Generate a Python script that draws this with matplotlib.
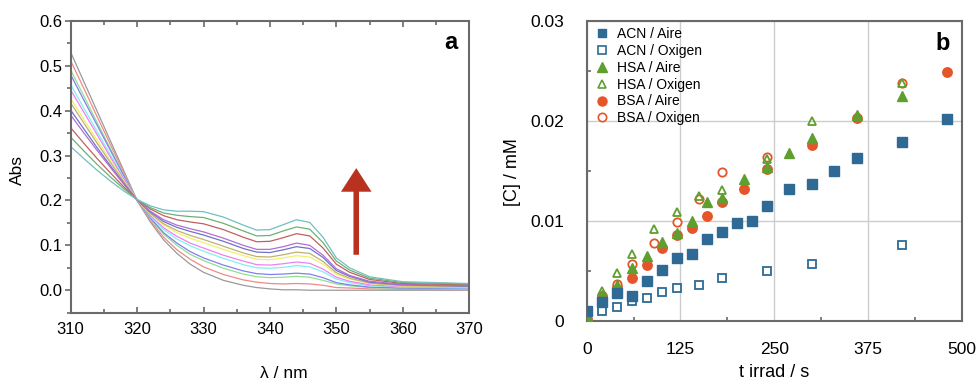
import matplotlib
matplotlib.use("Agg")
import matplotlib.pyplot as plt
from matplotlib.patches import FancyArrowPatch
from matplotlib.ticker import MultipleLocator
from matplotlib.lines import Line2D

plt.rcParams['font.family'] = ['Liberation Sans', 'DejaVu Sans']

# ---------------- panel a: absorption spectra ----------------
wavelength = [310, 312, 314, 316, 318, 320, 322, 324, 326, 328, 330, 333,
              336, 338, 340, 342, 344, 346, 348, 350, 352, 355, 360, 370]

spectra = [
    [0.530, 0.464, 0.398, 0.332, 0.266, 0.200, 0.152, 0.112, 0.082, 0.058, 0.040, 0.022,
     0.011, 0.006, 0.003, 0.001, 0.001, 0.000, 0.000, 0.000, 0.000, 0.000, 0.000, 0.000],
    [0.511, 0.449, 0.386, 0.324, 0.262, 0.200, 0.155, 0.118, 0.090, 0.069, 0.052, 0.035,
     0.023, 0.018, 0.015, 0.014, 0.015, 0.014, 0.011, 0.006, 0.005, 0.003, 0.002, 0.001],
    [0.490, 0.432, 0.373, 0.315, 0.257, 0.200, 0.159, 0.125, 0.100, 0.080, 0.066, 0.049,
     0.036, 0.030, 0.028, 0.029, 0.031, 0.029, 0.022, 0.014, 0.010, 0.006, 0.004, 0.003],
    [0.480, 0.423, 0.367, 0.311, 0.255, 0.200, 0.161, 0.128, 0.105, 0.086, 0.072, 0.056,
     0.043, 0.037, 0.035, 0.036, 0.038, 0.036, 0.028, 0.017, 0.012, 0.007, 0.005, 0.004],
    [0.458, 0.405, 0.353, 0.301, 0.250, 0.201, 0.164, 0.135, 0.114, 0.099, 0.087, 0.071,
     0.057, 0.050, 0.049, 0.051, 0.055, 0.052, 0.041, 0.025, 0.017, 0.010, 0.007, 0.005],
    [0.446, 0.396, 0.346, 0.296, 0.248, 0.201, 0.166, 0.139, 0.120, 0.105, 0.094, 0.078,
     0.065, 0.057, 0.056, 0.059, 0.063, 0.060, 0.047, 0.029, 0.020, 0.012, 0.008, 0.006],
    [0.427, 0.380, 0.334, 0.288, 0.244, 0.201, 0.170, 0.145, 0.128, 0.116, 0.106, 0.091,
     0.077, 0.069, 0.068, 0.072, 0.077, 0.074, 0.058, 0.035, 0.025, 0.015, 0.009, 0.007],
    [0.417, 0.372, 0.327, 0.284, 0.242, 0.201, 0.171, 0.148, 0.133, 0.122, 0.113, 0.098,
     0.083, 0.075, 0.074, 0.079, 0.085, 0.082, 0.064, 0.039, 0.027, 0.016, 0.010, 0.008],
    [0.401, 0.359, 0.317, 0.277, 0.238, 0.201, 0.174, 0.153, 0.140, 0.131, 0.123, 0.109,
     0.093, 0.085, 0.084, 0.090, 0.097, 0.093, 0.073, 0.044, 0.031, 0.018, 0.012, 0.009],
    [0.390, 0.350, 0.311, 0.273, 0.236, 0.201, 0.176, 0.157, 0.145, 0.137, 0.130, 0.116,
     0.100, 0.091, 0.091, 0.097, 0.105, 0.100, 0.078, 0.048, 0.033, 0.020, 0.013, 0.010],
    [0.362, 0.327, 0.293, 0.261, 0.230, 0.202, 0.181, 0.166, 0.157, 0.152, 0.148, 0.135,
     0.118, 0.108, 0.109, 0.117, 0.126, 0.121, 0.094, 0.058, 0.040, 0.024, 0.015, 0.012],
    [0.341, 0.310, 0.280, 0.252, 0.226, 0.202, 0.184, 0.172, 0.167, 0.164, 0.162, 0.149,
     0.132, 0.121, 0.122, 0.132, 0.141, 0.136, 0.106, 0.065, 0.045, 0.027, 0.017, 0.014],
    [0.320, 0.293, 0.267, 0.243, 0.221, 0.202, 0.188, 0.179, 0.176, 0.176, 0.175, 0.163,
     0.145, 0.134, 0.135, 0.146, 0.157, 0.151, 0.118, 0.072, 0.050, 0.030, 0.019, 0.015],
]

spectrum_colors = ['#9a9a9a', '#ee8a8a', '#90e090', '#8080f0', '#80f0f0', '#f080f0',
                   '#f0f070', '#c0b070', '#7070d0', '#b070d0', '#c06060', '#70b070',
                   '#70c0c0']

# ---------------- panel b: concentration vs irradiation time ----------------
t_acn_air = [0, 20, 40, 60, 80, 100, 120, 140, 160, 180, 200, 220, 240, 270, 300, 330, 360, 420, 480]
c_acn_air = [0.0010, 0.0019, 0.0028, 0.0025, 0.0040, 0.0051, 0.0063, 0.0067, 0.0082, 0.0089,
             0.0098, 0.0100, 0.0115, 0.0132, 0.0137, 0.0150, 0.0163, 0.0179, 0.0202]

t_acn_oxy = [20, 40, 60, 80, 100, 120, 150, 180, 240, 300, 420]
c_acn_oxy = [0.0010, 0.00137, 0.0020, 0.0023, 0.0029, 0.0033, 0.0036, 0.0043, 0.0050, 0.0057, 0.0076]

t_hsa_air = [0, 20, 40, 60, 80, 100, 120, 140, 160, 180, 210, 240, 270, 300, 360, 420]
c_hsa_air = [0.0005, 0.0026, 0.0036, 0.0053, 0.0065, 0.0079, 0.0088, 0.0100, 0.0119, 0.0123,
             0.0142, 0.0154, 0.0168, 0.0183, 0.0206, 0.0225]

t_hsa_oxy = [20, 40, 60, 90, 120, 150, 180, 240, 300, 420]
c_hsa_oxy = [0.0030, 0.0048, 0.0067, 0.0092, 0.0109, 0.0125, 0.0131, 0.0162, 0.0200, 0.0238]

t_bsa_air = [0, 20, 40, 60, 80, 100, 120, 140, 160, 180, 210, 240, 300, 360, 480]
c_bsa_air = [0.0002, 0.0025, 0.0034, 0.0043, 0.0056, 0.0073, 0.0086, 0.0093, 0.0105, 0.0119,
             0.0132, 0.0152, 0.0176, 0.0203, 0.0249]

t_bsa_oxy = [40, 60, 90, 120, 150, 180, 240, 420]
c_bsa_oxy = [0.0037, 0.0057, 0.0078, 0.0099, 0.0122, 0.0149, 0.0164, 0.0238]

series_labels = ['ACN / Aire', 'ACN / Oxigen', 'HSA / Aire', 'HSA / Oxigen',
                 'BSA / Aire', 'BSA / Oxigen']

BLUE = '#2e6a94'
GREEN = '#5f9f30'
ORANGE = '#e4562a'
SPINE = '#6a6a6a'

fig = plt.figure(figsize=(9.79, 3.84), dpi=100)

# ---- panel a ----
ax1 = fig.add_axes([0.0722, 0.1857, 0.407, 0.760])
for vals, col in zip(spectra, spectrum_colors):
    ax1.plot(wavelength, vals, color=col, lw=0.9)

ax1.set_xlim(310, 370)
ax1.set_ylim(-0.05, 0.6)
ax1.xaxis.set_major_locator(MultipleLocator(10))
ax1.xaxis.set_minor_locator(MultipleLocator(5))
ax1.yaxis.set_minor_locator(MultipleLocator(0.05))
ax1.set_yticks([0.0, 0.1, 0.2, 0.3, 0.4, 0.5, 0.6])
ax1.set_yticklabels(['0.0', '0.1', '0.2', '0.3', '0.4', '0.5', '0.6'])
ax1.tick_params(axis='y', which='both', direction='out', left=True, right=False,
                color=SPINE, width=1.2, labelsize=12, pad=2)
ax1.tick_params(axis='y', which='major', length=4)
ax1.tick_params(axis='y', which='minor', length=3)
ax1.tick_params(axis='x', which='both', direction='in', bottom=True, top=True,
                color=SPINE, width=1.2, labelsize=12, pad=7)
ax1.tick_params(axis='x', which='major', length=4)
ax1.tick_params(axis='x', which='minor', length=3)
for sp in ax1.spines.values():
    sp.set_color(SPINE)
    sp.set_linewidth(1.5)

ax1.set_ylabel('Abs', fontsize=12.5)
ax1.yaxis.set_label_coords(-0.115, 0.489)
ax1.set_xlabel('λ / nm', fontsize=12.5, va='top')
ax1.xaxis.set_label_coords(0.5355, -0.182)
ax1.text(0.954, 0.925, 'a', transform=ax1.transAxes, fontsize=17,
         fontweight='bold', ha='center', va='center')

arrow = FancyArrowPatch((353, 0.079), (353, 0.272),
                        arrowstyle='simple,head_length=0.85,head_width=1.1,tail_width=0.2',
                        mutation_scale=20, color='#b8321f', lw=0, shrinkA=0, shrinkB=0)
ax1.add_patch(arrow)

# ---- panel b ----
ax2 = fig.add_axes([0.5993, 0.164, 0.383, 0.782])
ms = 6.8
ax2.plot(t_bsa_air, c_bsa_air, 'o', ms=ms, color=ORANGE, mec=ORANGE, zorder=3)
ax2.plot(t_bsa_oxy, c_bsa_oxy, 'o', ms=ms - 0.8, mfc='white', mec=ORANGE, mew=1.3, zorder=3)
ax2.plot(t_hsa_air, c_hsa_air, '^', ms=ms, color=GREEN, mec=GREEN, zorder=4)
ax2.plot(t_hsa_oxy, c_hsa_oxy, '^', ms=ms - 0.8, mfc='none', mec=GREEN, mew=1.3, zorder=4)
ax2.plot(t_acn_oxy, c_acn_oxy, 's', ms=ms - 0.8, mfc='white', mec=BLUE, mew=1.3, zorder=5)
ax2.plot(t_acn_air, c_acn_air, 's', ms=ms, color=BLUE, mec=BLUE, zorder=6)

ax2.set_xlim(0, 500)
ax2.set_ylim(0, 0.03)
ax2.set_xticks([0, 125, 250, 375, 500])
ax2.xaxis.set_minor_locator(MultipleLocator(62.5))
ax2.set_yticks([0, 0.01, 0.02, 0.03])
ax2.set_yticklabels(['0', '0.01', '0.02', '0.03'])
ax2.yaxis.set_minor_locator(MultipleLocator(0.005))
ax2.grid(True, which='major', color='#cccccc', lw=1.0)
ax2.set_axisbelow(True)
ax2.tick_params(axis='both', which='major', length=0, labelsize=12.5)
ax2.tick_params(axis='x', which='major', pad=15)
ax2.tick_params(axis='y', which='major', pad=16)
ax2.tick_params(axis='both', which='minor', direction='in', length=3, width=1.2, color=SPINE)
for sp in ax2.spines.values():
    sp.set_color(SPINE)
    sp.set_linewidth(1.5)

ax2.set_ylabel('[C] / mM', fontsize=13)
ax2.yaxis.set_label_coords(-0.175, 0.497)
ax2.set_xlabel('t irrad / s', fontsize=13, va='top')
ax2.xaxis.set_label_coords(0.4995, -0.142)
ax2.text(0.948, 0.925, 'b', transform=ax2.transAxes, fontsize=17,
         fontweight='bold', ha='center', va='center')

handles = [
    Line2D([], [], ls='none', marker='s', ms=6, color=BLUE),
    Line2D([], [], ls='none', marker='s', ms=5.5, mfc='white', mec=BLUE, mew=1.2),
    Line2D([], [], ls='none', marker='^', ms=6.5, color=GREEN),
    Line2D([], [], ls='none', marker='^', ms=6, mfc='white', mec=GREEN, mew=1.2),
    Line2D([], [], ls='none', marker='o', ms=6.5, color=ORANGE),
    Line2D([], [], ls='none', marker='o', ms=6, mfc='white', mec=ORANGE, mew=1.2),
]
ax2.legend(handles, series_labels, loc='upper left', bbox_to_anchor=(0.021, 0.978),
           frameon=False, fontsize=10, borderpad=0, borderaxespad=0,
           handlelength=1.0, handletextpad=0.6, labelspacing=0.2)

fig.savefig('out.png', dpi=100)
